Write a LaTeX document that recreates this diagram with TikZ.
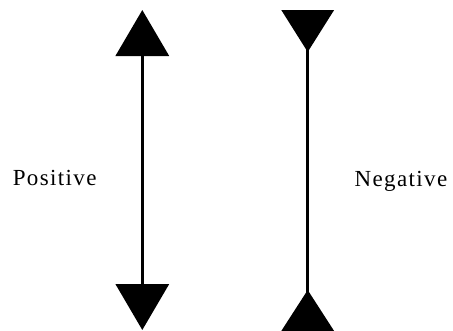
\documentclass[tikz,border=0pt]{standalone}
\usepackage{fontspec}
\setmainfont[LetterSpace=6]{Liberation Serif}
\usetikzlibrary{arrows.meta}
\tikzset{
  axisline/.style={line width=3.5pt, black},
  lbl/.style={anchor=base, inner sep=0pt, font=\fontsize{23}{26}\selectfont}
}
\begin{document}
\begin{tikzpicture}[x=1pt,y=-1pt]
\useasboundingbox (0,0) rectangle (453,330);
\coordinate (ptop) at (142.3,10);
\coordinate (pbot) at (142.3,330);
\coordinate (ntop) at (307.7,10);
\coordinate (nbot) at (307.7,331);
\draw[axisline, {Triangle[length=46pt,width=53pt]}-{Triangle[length=46pt,width=53pt]}] (ptop) -- (pbot);
\draw[axisline, {Triangle[reversed,length=42pt,width=52pt]}-{Triangle[reversed,length=41pt,width=52pt]}] (ntop) -- (nbot);
\node[lbl] (pos) at (54.7,185) {Positive};
\node[lbl] (neg) at (401,186) {Negative};
\end{tikzpicture}
\end{document}
